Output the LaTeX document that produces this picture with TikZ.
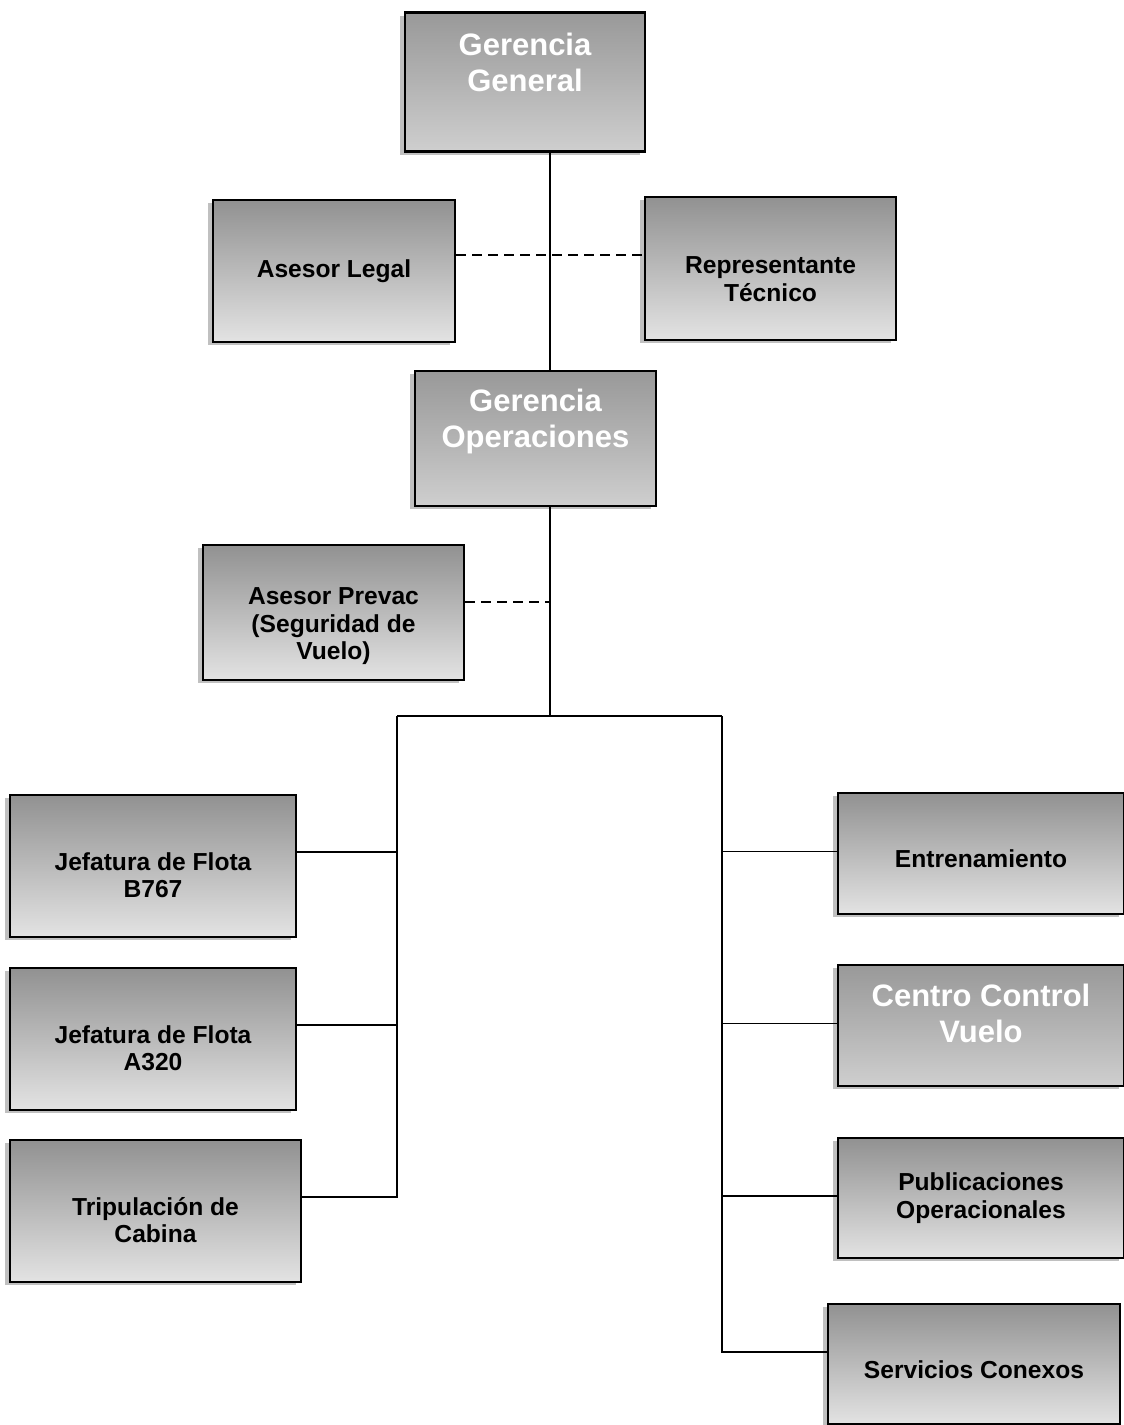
\documentclass[tikz,border=0pt]{standalone}
\usepackage{fontspec}
\setmainfont{Liberation Sans}
\usetikzlibrary{shadows}
\tikzset{
  caja/.style={draw=black, line width=1.3pt, align=center, inner sep=2pt,
    top color=black!43, bottom color=black!11, middle color=black!27,
    drop shadow={shadow xshift=-2.5pt, shadow yshift=-1.5pt, fill=black!45, opacity=.55},
    font=\bfseries\fontsize{12.3}{13.8}\selectfont},
  cajablanca/.style={caja, text=white, top color=black!40, bottom color=black!19,
    middle color=black!30, font=\bfseries\fontsize{15.5}{18}\selectfont},
  linea/.style={line width=0.9pt},
  punteada/.style={line width=0.9pt, dash pattern=on 5pt off 3pt}
}
\begin{document}
\begin{tikzpicture}[x=0.5pt, y=-0.5pt]
  \useasboundingbox (0,0) rectangle (1124,1425);
  % cajas
  \node[cajablanca, minimum width=120pt, minimum height=69.5pt, text depth=20pt] (gg) at (525,82) {Gerencia\\General};
  \node[caja, minimum width=121pt, minimum height=71pt] (legal) at (334,271) {Asesor Legal};
  \node[caja, minimum width=125.5pt, minimum height=71.5pt, text height=33pt] (rep) at (770.5,268.5) {Representante\\Técnico};
  \node[cajablanca, minimum width=120.5pt, minimum height=67.5pt, text depth=20pt] (gop) at (535.5,438.5) {Gerencia\\Operaciones};
  \node[caja, minimum width=130.5pt, minimum height=67.5pt, text height=50pt] (prevac) at (333.5,612.5) {Asesor Prevac\\(Seguridad de\\Vuelo)};
  \node[caja, minimum width=143pt, minimum height=71pt, text height=32pt] (b767) at (153,866) {Jefatura de Flota\\B767};
  \node[caja, minimum width=143pt, minimum height=71pt, text height=32pt] (a320) at (153,1039) {Jefatura de Flota\\A320};
  \node[caja, minimum width=145.5pt, minimum height=71pt, text height=32pt] (trip) at (155.5,1211) {Tripulación de\\Cabina};
  \node[caja, minimum width=143pt, minimum height=60.5pt, text height=14pt] (entr) at (981,853.5) {Entrenamiento};
  \node[cajablanca, minimum width=143pt, minimum height=60.5pt, text depth=12pt] (ccv) at (981,1025.5) {Centro Control\\Vuelo};
  \node[caja, minimum width=143pt, minimum height=60pt] (pub) at (981,1198) {Publicaciones\\Operacionales};
  \node[caja, minimum width=146pt, minimum height=60pt, text height=15pt] (serv) at (974,1364) {Servicios Conexos};
  % puntos de union
  \coordinate (t1) at (550,716);
  \coordinate (d1) at (550,255);
  \coordinate (d2) at (550,602);
  \coordinate (izq) at (397,716);
  \coordinate (der) at (722,716);
  % lineas
  \draw[linea] (gg.south -| t1) -- (gop.north -| t1) (gop.south -| t1) -- (t1);
  \draw[punteada] (legal.east |- d1) -- (rep.west |- d1);
  \draw[punteada] (prevac.east |- d2) -- (d2);
  \draw[linea] (izq) -- (der);
  \foreach \n in {b767,a320} \draw[linea] ([yshift=7pt]\n.east) -- ([yshift=7pt]\n.east -| izq);
  \draw[linea] (izq) |- ([yshift=7pt]trip.east);
  \foreach \n in {entr,ccv,pub} \draw[linea] ([yshift=1pt]\n.west) -- ([yshift=1pt]\n.west -| der);
  \draw[linea] (der) |- ([yshift=6pt]serv.west);
\end{tikzpicture}
\end{document}
